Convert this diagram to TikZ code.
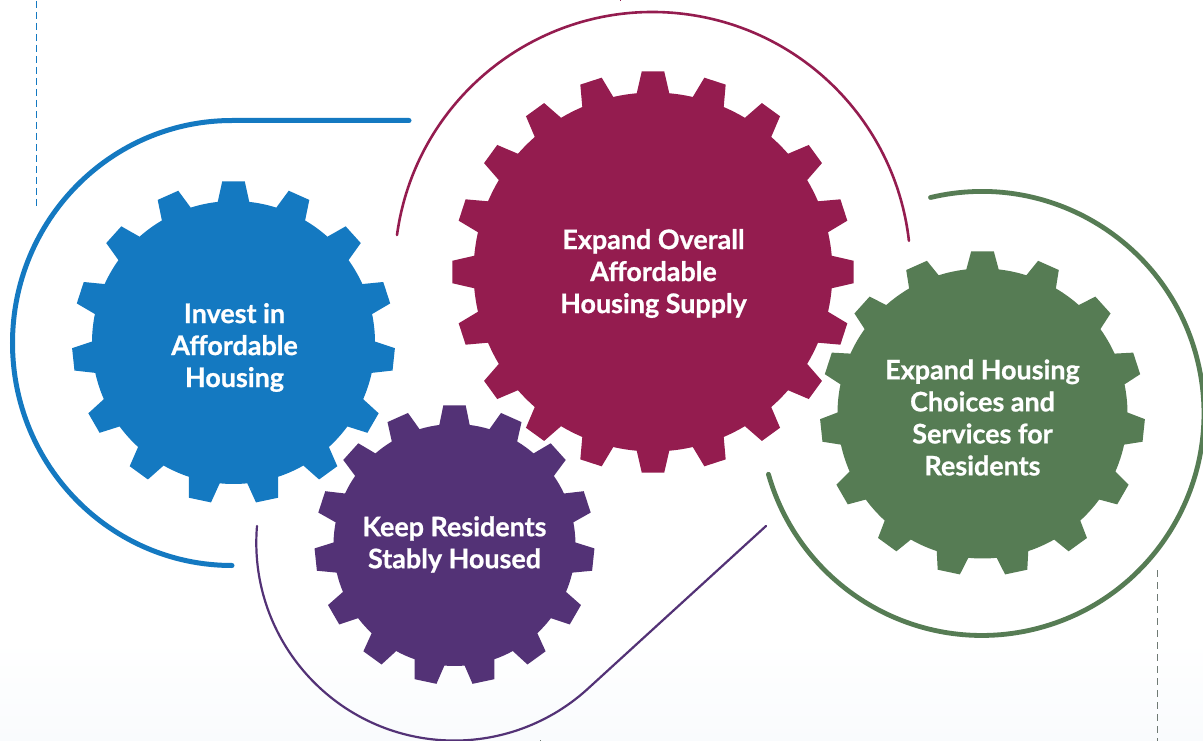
\documentclass[tikz,border=0pt]{standalone}
\usepackage{fontspec}
\setmainfont{Lato}[BoldFeatures={FakeBold=0.8}]
\definecolor{gblue}{HTML}{1479C1}
\definecolor{gmaroon}{HTML}{941C4F}
\definecolor{gpurple}{HTML}{533276}
\definecolor{ggreen}{HTML}{567C54}
\definecolor{bgfade}{HTML}{F9FBFD}
\definecolor{dashgrey}{HTML}{6F7A74}
\tikzset{
  geartext/.style={text=white,font=\fontsize{26.9}{32}\selectfont\bfseries,align=center,inner sep=0pt},
  beltline/.style={line cap=round,fill=none},
}
% #1 cx, #2 cy, #3 tip radius, #4 root radius, #5 teeth, #6 colour, #7 tip half angle, #8 root half angle
\newcommand{\gearfill}[8]{%
  \pgfmathsetmacro{\stepang}{360/#5}
  \pgfmathsetmacro{\lastk}{#5-1}
  \fill[#6,shift={(#1,#2)}] (90-#8:#4pt)
    \foreach \k in {0,...,\lastk}{
      -- (90+\k*\stepang-#8:#4pt)
      -- (90+\k*\stepang-#7:#3pt)
      -- (90+\k*\stepang+#7:#3pt)
      -- (90+\k*\stepang+#8:#4pt)
      arc[start angle=90+\k*\stepang+#8,delta angle=\stepang-2*#8,radius=#4pt]
    } -- cycle;
}
\begin{document}
\begin{tikzpicture}[x=1pt,y=-1pt]
\useasboundingbox (0,0) rectangle (1203,741);
\fill[white] (0,0) rectangle (1203,741);
\shade[top color=white,bottom color=bgfade,draw=none] (0,640) rectangle (1203,741);
% dashed side lines
\coordinate (dashAtop) at (36.5,1);
\coordinate (dashAend) at (36.5,207);
\coordinate (dashBtop) at (1157.5,570);
\coordinate (dashBend) at (1157.5,741);
\draw[gblue,line width=1.3pt,dash pattern=on 7.5pt off 3.5pt] (dashAtop) -- (dashAend);
\draw[dashgrey,line width=1.3pt,dash pattern=on 7pt off 5pt] (dashBtop) -- (dashBend);
\draw[gmaroon,line width=1pt] (620,0) -- (620,1);
\draw[dashgrey,line width=1pt] (540,740) -- (540,741);
% belts
\draw[beltline,gblue,line width=5pt] (409,120.5) -- (232,120.5)
  arc[start angle=90,end angle=270,x radius=219.5pt,y radius=222.5pt];
\draw[beltline,gmaroon,line width=2.6pt] (397,235)
  arc[start angle=172.2,end angle=6.5,radius=258pt];
\draw[beltline,ggreen,line width=4.8pt] (930.5,197.5)
  arc[start angle=103.4,delta angle=-267.5,radius=222pt];
\draw[beltline,gpurple,line width=2.2pt] (257,526)
  arc[start angle=175.2,end angle=312,radius=198pt] -- (766,526);
% gears
\gearfill{233.5}{342.5}{161.5}{141.5}{15}{gblue}{4.0}{6.4}
\gearfill{653}{272}{201}{179.5}{20}{gmaroon}{3.2}{5.2}
\gearfill{454.5}{545}{140}{121}{15}{gpurple}{4.6}{7.2}
\gearfill{982.5}{413.5}{162.5}{145}{15}{ggreen}{4.0}{6.4}
% labels
\node[geartext] (invest) at (234.5,347.5) {Invest in\\Affordable\\Housing};
\node[geartext] (supply) at (653.5,273.5) {Expand Overall\\Affordable\\Housing Supply};
\node[geartext] (stable) at (454.5,544.5) {Keep Residents\\Stably Housed};
\node[geartext] (choices) at (982.5,417.5) {Expand Housing\\Choices and\\Services for\\Residents};
\end{tikzpicture}
\end{document}
